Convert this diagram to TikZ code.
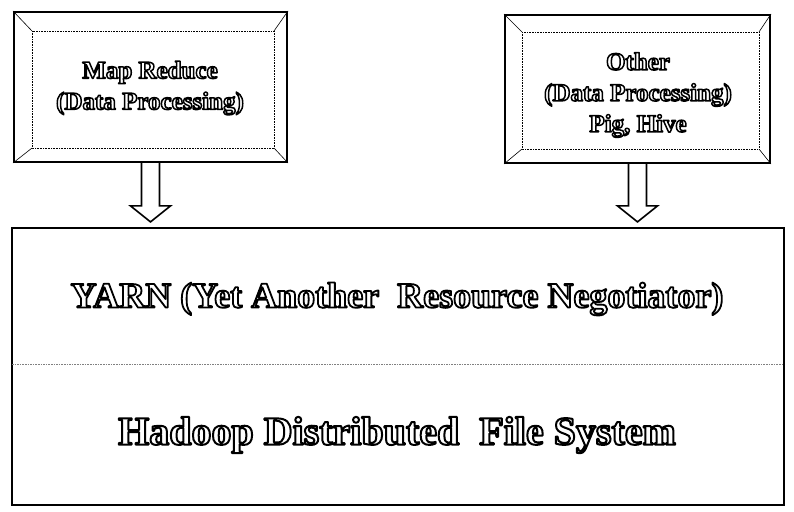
\documentclass[tikz,border=0pt]{standalone}
\usepackage{fontspec}
\setmainfont{Liberation Serif}
\usetikzlibrary{calc}
\newcommand\outlinetext[1]{\special{pdf:literal direct 2 Tr #1 w 0 G 1 j}}
\tikzset{
  wa/.style={align=center, inner sep=0pt, text=white},
  bevelbox/.style={draw, line width=2pt, fill=white, inner sep=0pt},
  bevelin/.style={draw, line width=0.6pt, densely dotted},
  bevdiag/.style={draw, line width=0.6pt},
  blockarr/.style={draw, line width=1.6pt, fill=white, line join=miter},
  stackbox/.style={draw, line width=2.2pt, inner sep=0pt, minimum width=772pt, minimum height=277pt},
  divider/.style={draw=gray, line width=1.6pt, densely dotted},
  smallwa/.style={font={\bfseries\fontsize{25}{31}\selectfont}},
  bigwa/.style={font={\bfseries\fontsize{36}{40}\selectfont}},
  hugewa/.style={font={\bfseries\fontsize{40}{44}\selectfont}}
}
\newcommand\wordart[5]{%
  \node[wa, #3] (#1) at (#2) {\outlinetext{#4}#5};}
\newcommand\bevelinner[5]{%
  \coordinate (#1-a) at ($(#1.north west)+(#2,#3)$);
  \coordinate (#1-c) at ($(#1.south east)+(-#4,-#5)$);
  \draw[bevelin] (#1-a) rectangle (#1-c);
  \draw[bevdiag] (#1.north west) -- (#1-a);
  \draw[bevdiag] (#1.south east) -- (#1-c);
  \draw[bevdiag] (#1.north east) -- (#1-a -| #1-c);
  \draw[bevdiag] (#1.south west) -- (#1-a |- #1-c);}
\newcommand\blockarrow[2]{%
  \coordinate (#1-s) at (#1.south);
  \coordinate (#1-t) at ($(#1.south |- #2.north)+(0,-5)$);
  \draw[blockarr] ($(#1-s)+(-9,0)$) -- ($(#1-t)+(-9,-16)$) -- ($(#1-t)+(-20,-16)$) -- (#1-t)
     -- ($(#1-t)+(20,-16)$) -- ($(#1-t)+(9,-16)$) -- ($(#1-s)+(9,0)$);}
\begin{document}
\begin{tikzpicture}[x=1pt,y=-1pt]
\useasboundingbox (0,0) rectangle (794,511);
% boxes
\node[bevelbox, minimum width=273pt, minimum height=150pt] (mr) at (150.5,87) {};
\node[bevelbox, minimum width=265pt, minimum height=148pt] (ot) at (637.5,89) {};
\bevelinner{mr}{19}{20}{14}{15}
\bevelinner{ot}{18}{18}{12}{15}
\node[stackbox] (st) at (398,366.5) {};
\draw[divider] ($(st.west)+(1,-2)$) -- ($(st.east)+(-1,-2)$);
% arrows
\blockarrow{mr}{st}
\blockarrow{ot}{st}
% texts
\coordinate (mrc) at (150,88);
\coordinate (otc) at (638,95);
\coordinate (yc) at (397,299);
\coordinate (hc) at (397,435);
\wordart{mrt}{mrc}{smallwa}{1.5}{Map Reduce\\(Data Processing)}
\wordart{ott}{otc}{smallwa}{1.5}{Other\\(Data Processing)\\Pig, Hive}
\wordart{yarn}{yc}{bigwa}{1.8}{YARN (Yet Another\ \ Resource Negotiator)}
\wordart{hdfs}{hc}{hugewa}{2}{Hadoop Distributed\ \ File System}
\end{tikzpicture}
\end{document}
